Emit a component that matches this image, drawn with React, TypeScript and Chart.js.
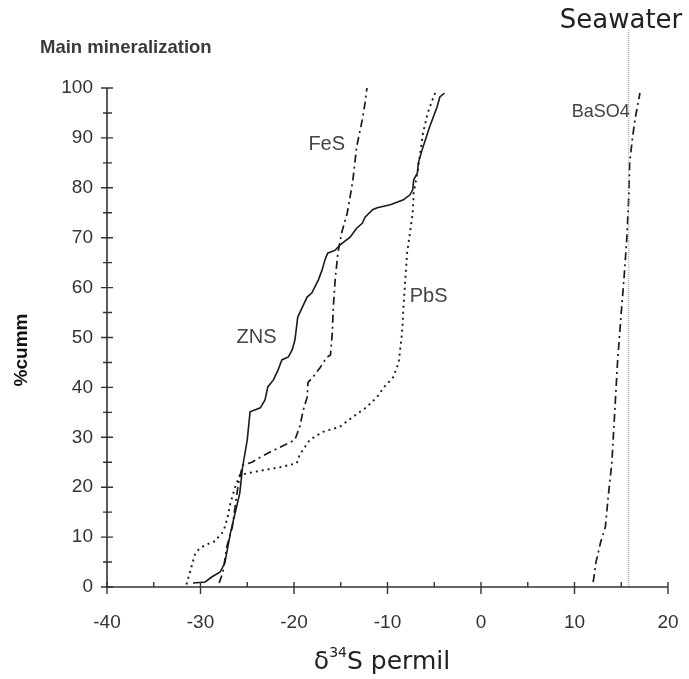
import React, { useEffect, useRef } from "react";
import { Chart, registerables } from "chart.js";

Chart.register(...registerables);

// ---- data (δ34S permil, cumulative %) ----
const znsX = [-30.8, -29.5, -28.8, -27.9, -27.4, -27.2, -26.8, -26.3, -25.8, -25.5, -25.0, -24.7, -23.6, -23.1, -22.8, -22.2, -21.7, -21.3, -20.6, -20.2, -19.9, -19.6, -19.1, -18.6, -18.1, -17.4, -17.0, -16.7, -16.4, -15.6, -15.1, -14.0, -13.3, -12.7, -12.4, -11.6, -11.1, -9.7, -8.3, -7.6, -7.3, -7.2, -6.8, -6.7, -6.2, -5.5, -4.7, -4.4, -3.9];
const znsY = [0.8, 1.0, 2.0, 3.0, 4.8, 6.8, 10.8, 14.8, 18.8, 24.0, 29.5, 35.1, 35.9, 37.5, 40.1, 41.5, 43.5, 45.5, 46.1, 47.5, 49.5, 54.1, 56.1, 58.1, 58.9, 61.5, 63.5, 65.5, 66.9, 67.5, 68.5, 70.1, 71.9, 72.9, 74.1, 75.6, 76.0, 76.6, 77.6, 78.6, 79.6, 81.6, 83.0, 85.0, 88.2, 92.2, 96.2, 98.2, 99.0];

const fesX = [-28.0, -27.6, -27.4, -27.2, -26.6, -26.3, -26.0, -25.8, -25.5, -24.5, -23.6, -22.6, -21.5, -20.4, -19.9, -19.4, -19.0, -18.6, -18.5, -18.0, -17.2, -16.5, -16.1, -15.9, -15.8, -15.6, -15.3, -14.9, -14.3, -14.0, -13.7, -13.3, -12.7, -12.4, -12.2];
const fesY = [0.8, 3.0, 5.4, 8.0, 12.0, 16.0, 20.0, 22.0, 24.4, 25.0, 26.0, 27.0, 28.0, 29.0, 29.5, 32.0, 35.5, 38.0, 41.0, 42.0, 44.0, 46.0, 46.5, 51.0, 56.0, 61.5, 67.0, 71.0, 75.0, 78.2, 81.6, 88.2, 93.6, 97.0, 100.0];

const pbsX = [-31.5, -31.2, -30.9, -30.6, -30.1, -29.0, -28.4, -28.1, -27.7, -27.4, -27.1, -26.8, -26.3, -25.8, -25.0, -23.3, -21.5, -19.7, -19.4, -18.3, -16.9, -15.1, -13.7, -12.2, -11.1, -10.4, -9.4, -8.8, -8.5, -8.4, -8.3, -8.1, -7.9, -7.6, -7.3, -7.2, -6.8, -6.5, -6.2, -5.7, -5.2, -4.9];
const pbsY = [0.5, 2.5, 4.5, 6.5, 7.8, 8.8, 9.2, 10.0, 10.8, 12.0, 14.0, 16.8, 20.0, 22.4, 22.8, 23.4, 24.0, 24.8, 26.5, 29.5, 31.1, 32.1, 34.1, 36.1, 38.1, 40.0, 42.0, 45.0, 50.0, 52.0, 56.0, 61.5, 67.0, 71.0, 75.0, 79.0, 83.0, 87.0, 91.0, 95.0, 97.6, 99.0];

const basX = [12.0, 12.3, 12.8, 13.3, 13.6, 14.0, 14.3, 14.6, 15.0, 15.3, 15.6, 15.8, 15.9, 16.2, 16.5, 17.0];
const basY = [1, 5, 9, 12, 18, 25, 35, 45, 55, 62, 70, 78, 85, 90, 94, 99];

const seawaterX = 15.8;

// ---- axes ----
const xMajor = [-40, -30, -20, -10, 0, 10, 20];
const xMinor = [-35, -25, -15, -5, 5, 15];
const yMajor = [0, 10, 20, 30, 40, 50, 60, 70, 80, 90, 100];
const yMinor = [5, 15, 25, 35, 45, 55, 65, 75, 85, 95];

// ---- text labels ----
const seriesLabels = [
  { text: "ZNS", x: -24.0, y: 50, size: 20 },
  { text: "FeS", x: -16.5, y: 88.6, size: 20 },
  { text: "PbS", x: -5.6, y: 58.3, size: 20 },
  { text: "BaSO4", x: 12.8, y: 95.2, size: 18 },
];

const toPts = (xs: number[], ys: number[]) => xs.map((x, i) => ({ x, y: ys[i] }));

export default function App() {
  const ref = useRef<HTMLCanvasElement>(null);

  useEffect(() => {
    document.body.style.margin = "0";
    const canvas = ref.current;
    if (!canvas) return;

    const decor = {
      id: "decor",
      afterDraw(chart: any) {
        const ctx = chart.ctx as CanvasRenderingContext2D;
        const xs = chart.scales.x;
        const ys = chart.scales.y;
        const x0 = xs.getPixelForValue(-40);
        const y0 = ys.getPixelForValue(0);
        ctx.save();
        // seawater line
        const sx = xs.getPixelForValue(seawaterX);
        ctx.strokeStyle = "#999";
        ctx.lineWidth = 1;
        ctx.setLineDash([1, 1]);
        ctx.beginPath();
        ctx.moveTo(sx, 30);
        ctx.lineTo(sx, y0);
        ctx.stroke();
        ctx.setLineDash([]);

        // axes
        ctx.strokeStyle = "#333";
        ctx.lineWidth = 1.6;
        ctx.beginPath();
        ctx.moveTo(x0, ys.getPixelForValue(100));
        ctx.lineTo(x0, y0);
        ctx.lineTo(xs.getPixelForValue(20), y0);
        ctx.stroke();
        ctx.lineWidth = 1.4;
        ctx.beginPath();
        for (const v of yMajor) {
          const p = ys.getPixelForValue(v);
          ctx.moveTo(x0 - 6, p);
          ctx.lineTo(x0 + 6, p);
        }
        for (const v of yMinor) {
          const p = ys.getPixelForValue(v);
          ctx.moveTo(x0 - 4, p);
          ctx.lineTo(x0 + 5, p);
        }
        for (const v of xMajor) {
          const p = xs.getPixelForValue(v);
          ctx.moveTo(p, y0 - 5);
          ctx.lineTo(p, y0 + 7);
        }
        for (const v of xMinor) {
          const p = xs.getPixelForValue(v);
          ctx.moveTo(p, y0 - 5);
          ctx.lineTo(p, y0);
        }
        ctx.stroke();

        // tick labels
        ctx.fillStyle = "#333";
        ctx.font = "19px 'Liberation Sans', Arial, sans-serif";
        ctx.textAlign = "right";
        ctx.textBaseline = "middle";
        for (const v of yMajor) ctx.fillText(String(v), 93, ys.getPixelForValue(v));
        ctx.textAlign = "center";
        for (const v of xMajor) ctx.fillText(String(v), xs.getPixelForValue(v), 623);

        // series labels
        ctx.fillStyle = "#444";
        for (const l of seriesLabels) {
          ctx.font = `${l.size}px 'Liberation Sans', Arial, sans-serif`;
          ctx.fillText(l.text, xs.getPixelForValue(l.x), ys.getPixelForValue(l.y));
        }

        // title
        ctx.fillStyle = "#3a3a3a";
        ctx.font = "bold 18.5px 'Liberation Sans', Arial, sans-serif";
        ctx.textAlign = "left";
        ctx.fillText("Main mineralization", 40, 48);

        // seawater
        ctx.fillStyle = "#222";
        ctx.font = "26px 'DejaVu Sans', sans-serif";
        ctx.textAlign = "center";
        ctx.fillText("Seawater", 621, 21);

        // y title
        ctx.save();
        ctx.translate(22, 350);
        ctx.rotate(-Math.PI / 2);
        ctx.fillStyle = "#111";
        ctx.font = "bold 19px 'Liberation Sans', Arial, sans-serif";
        ctx.fillText("%cumm", 0, 0);
        ctx.restore();

        // x title: δ34S permil
        ctx.fillStyle = "#222";
        ctx.textAlign = "left";
        const f1 = "25px 'DejaVu Sans', sans-serif";
        const f2 = "14px 'DejaVu Sans', sans-serif";
        ctx.font = f1;
        const wD = ctx.measureText("δ").width;
        const wS = ctx.measureText("S permil").width;
        ctx.font = f2;
        const wSup = ctx.measureText("34").width;
        const total = wD + wSup + wS;
        let cx = 382 - total / 2;
        const by = 662;
        ctx.font = f1;
        ctx.fillText("δ", cx, by);
        cx += wD;
        ctx.font = f2;
        ctx.fillText("34", cx, by - 9);
        cx += wSup;
        ctx.font = f1;
        ctx.fillText("S permil", cx, by);
        ctx.restore();
      },
    };

    const common = { showLine: true, pointRadius: 0, borderColor: "#1a1a1a", fill: false, tension: 0 };
    const chart = new Chart(canvas, {
      type: "scatter",
      data: {
        datasets: [
          { ...common, label: "ZNS", data: toPts(znsX, znsY), borderWidth: 1.6 },
          { ...common, label: "FeS", data: toPts(fesX, fesY), borderWidth: 1.7, borderDash: [8, 4, 2, 4] },
          { ...common, label: "PbS", data: toPts(pbsX, pbsY), borderWidth: 1.9, borderDash: [2, 4] },
          { ...common, label: "BaSO4", data: toPts(basX, basY), borderWidth: 1.7, borderDash: [8, 4, 2, 4] },
        ],
      } as any,
      options: {
        animation: false,
        responsive: false,
        layout: { padding: { left: 107, right: 21, top: 88, bottom: 92 } },
        plugins: { legend: { display: false }, tooltip: { enabled: false } },
        scales: {
          x: { type: "linear", min: -40, max: 20, display: false },
          y: { type: "linear", min: 0, max: 100, display: false },
        },
      } as any,
      plugins: [decor],
    });
    return () => chart.destroy();
  }, []);

  return <canvas ref={ref} width={689} height={679} style={{ display: "block" }} />;
}
